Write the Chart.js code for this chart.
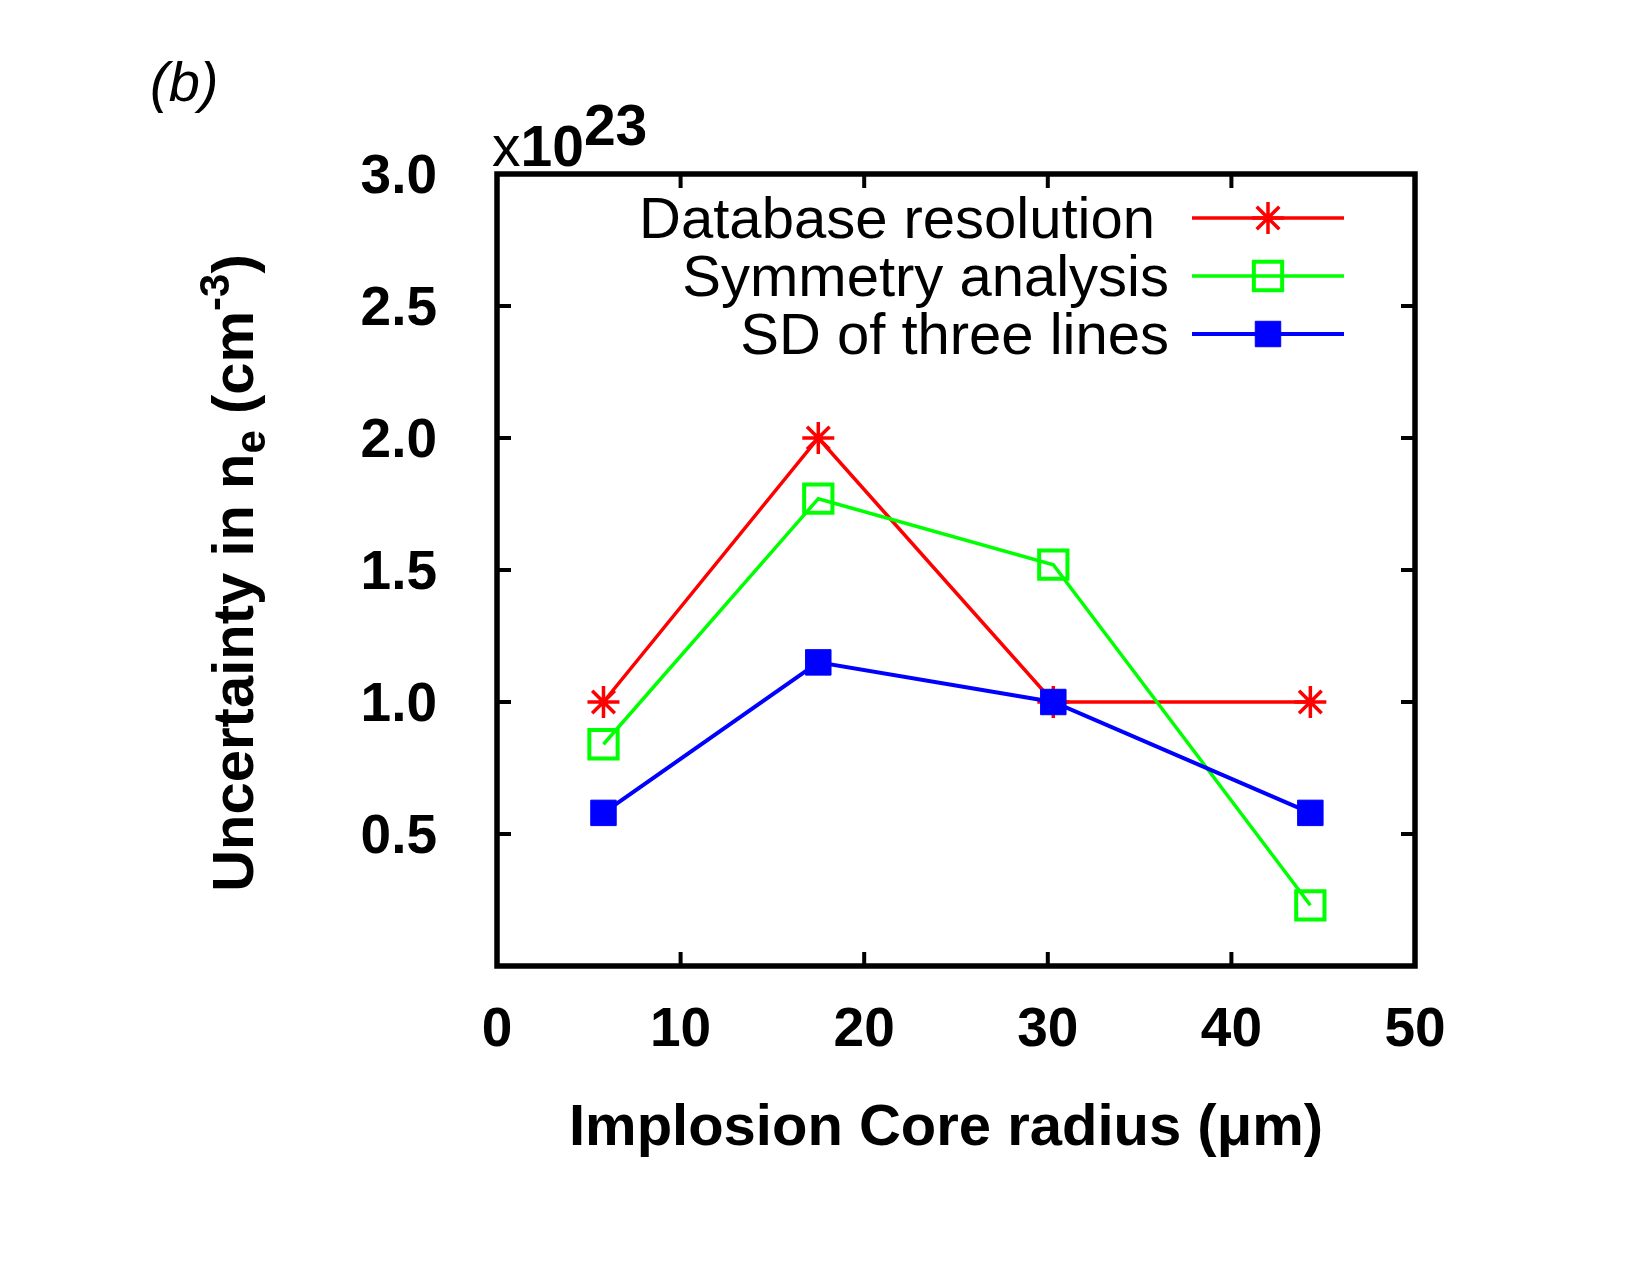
<!DOCTYPE html>
<html>
<head>
<meta charset="utf-8">
<script src="https://cdn.jsdelivr.net/npm/chart.js@4.4.0/dist/chart.umd.min.js"></script>
<style>
  html, body { margin: 0; padding: 0; background: #fff; }
  #wrap { width: 1650px; height: 1275px; position: relative; }
</style>
</head>
<body>
<div id="wrap"><canvas id="c" width="1650" height="1275"></canvas></div>
<script>
// ---- data ----
const coreRadius = [5.8, 17.5, 30.3, 44.3];          // um
const dbResolution = [1.0, 2.0, 1.0, 1.0];           // x10^23 cm^-3
const symmetryAnalysis = [0.84, 1.77, 1.52, 0.23];
const sdThreeLines = [0.58, 1.15, 1.0, 0.58];
const seriesNames = ["Database resolution", "Symmetry analysis", "SD of three lines"];
const seriesColors = ["#ff0000", "#00ff00", "#0000ff"];

const FONT = "'Liberation Sans', Arial, Helvetica, sans-serif";
Chart.defaults.font.family = FONT;
Chart.defaults.color = "#000";

// ---- geometry of the plot box ----
const BOX = { left: 497, right: 1415, top: 174, bottom: 966 };

const pts = ys => coreRadius.map((x, i) => ({ x, y: ys[i] }));

// frame, inward ticks, legend, titles
const decor = {
  id: "decor",
  afterDraw(chart) {
    const { ctx, chartArea: a, scales: { x, y } } = chart;
    ctx.save();
    // inward ticks on all four sides
    ctx.strokeStyle = "#000";
    ctx.lineWidth = 4;
    const tl = 14;
    x.ticks.forEach(t => {
      if (t.value <= x.min || t.value >= x.max) return;
      const px = x.getPixelForValue(t.value);
      ctx.beginPath();
      ctx.moveTo(px, a.bottom); ctx.lineTo(px, a.bottom - tl);
      ctx.moveTo(px, a.top); ctx.lineTo(px, a.top + tl);
      ctx.stroke();
    });
    y.ticks.forEach(t => {
      if (t.value <= y.min || t.value >= y.max) return;
      const py = y.getPixelForValue(t.value);
      ctx.beginPath();
      ctx.moveTo(a.left, py); ctx.lineTo(a.left + tl, py);
      ctx.moveTo(a.right, py); ctx.lineTo(a.right - tl, py);
      ctx.stroke();
    });
    // frame
    ctx.lineWidth = 5.5;
    ctx.strokeRect(a.left, a.top, a.right - a.left, a.bottom - a.top);

    // legend (text right-aligned, then sample)
    const rowY = [218, 276, 334];
    const textRight = [1155, 1169, 1169];
    chart.data.datasets.forEach((ds, i) => {
      const yy = rowY[i];
      ctx.font = `58px ${FONT}`;
      ctx.fillStyle = "#000";
      ctx.textAlign = "right";
      ctx.textBaseline = "alphabetic";
      ctx.fillText(ds.label, textRight[i], yy + 20);
      ctx.strokeStyle = ds.borderColor;
      ctx.lineWidth = ds.borderWidth;
      ctx.beginPath();
      ctx.moveTo(1192, yy); ctx.lineTo(1344, yy);
      ctx.stroke();
      ctx.fillStyle = ds.pointBackgroundColor;
      ctx.strokeStyle = ds.pointBorderColor;
      ctx.lineWidth = ds.pointBorderWidth;
      Chart.helpers.drawPoint(ctx, {
        pointStyle: ds.pointStyle, radius: ds.pointRadius, rotation: 0,
        borderWidth: ds.pointBorderWidth
      }, 1268, yy);
    });

    // pieces of mixed-size text
    const drawRuns = (runs, cx, cy) => {
      let w = 0;
      runs.forEach(r => { ctx.font = r.font; w += ctx.measureText(r.t).width; });
      let xx = cx - w / 2;
      ctx.textAlign = "left";
      runs.forEach(r => {
        ctx.font = r.font;
        ctx.fillText(r.t, xx, cy + (r.dy || 0));
        xx += ctx.measureText(r.t).width;
      });
    };
    ctx.fillStyle = "#000";
    ctx.textBaseline = "alphabetic";

    // y title
    ctx.save();
    ctx.translate(253, 573);
    ctx.rotate(-Math.PI / 2);
    drawRuns([
      { t: "Uncertainty in n", font: `bold 58px ${FONT}` },
      { t: "e", font: `bold 42px ${FONT}`, dy: 12 },
      { t: " (cm", font: `bold 58px ${FONT}` },
      { t: "-3", font: `bold 42px ${FONT}`, dy: -24 },
      { t: ")", font: `bold 58px ${FONT}` }
    ], 0, 0);
    ctx.restore();

    // x title
    drawRuns([{ t: "Implosion Core radius (\u03bcm)", font: `bold 58px ${FONT}` }], 946, 1145);

    // multiplier x10^23
    ctx.textAlign = "left";
    ctx.font = `57px ${FONT}`;
    ctx.fillText("x", 492, 166);
    let mx = 492 + ctx.measureText("x").width;
    ctx.font = `bold 57px ${FONT}`;
    ctx.fillText("10", mx, 166);
    mx += ctx.measureText("10").width;
    ctx.fillText("23", mx, 145);

    // panel label
    ctx.font = `italic 56px ${FONT}`;
    ctx.fillText("(b)", 150, 101);
    ctx.restore();
  }
};

new Chart(document.getElementById("c"), {
  type: "line",
  data: {
    datasets: [
      { label: seriesNames[0], data: pts(dbResolution), order: 3,
        borderColor: seriesColors[0], borderWidth: 3.5,
        pointStyle: "star", pointRadius: 16, pointBorderWidth: 3.5,
        pointBorderColor: seriesColors[0], pointBackgroundColor: seriesColors[0] },
      { label: seriesNames[1], data: pts(symmetryAnalysis), order: 2,
        borderColor: seriesColors[1], borderWidth: 3.5,
        pointStyle: "rect", pointRadius: 20, pointBorderWidth: 4,
        pointBorderColor: seriesColors[1], pointBackgroundColor: "rgba(0,0,0,0)" },
      { label: seriesNames[2], data: pts(sdThreeLines), order: 1,
        borderColor: seriesColors[2], borderWidth: 4,
        pointStyle: "rect", pointRadius: 18, pointBorderWidth: 1,
        pointBorderColor: seriesColors[2], pointBackgroundColor: seriesColors[2] }
    ]
  },
  options: {
    responsive: false,
    animation: false,
    devicePixelRatio: 1,
    layout: { padding: { left: 0, top: BOX.top, right: 1650 - BOX.right, bottom: 0 } },
    elements: { line: { tension: 0 } },
    plugins: { legend: { display: false }, tooltip: { enabled: false } },
    scales: {
      x: {
        type: "linear", min: 0, max: 50,
        grid: { display: false, drawTicks: false },
        border: { display: false },
        ticks: { stepSize: 10, padding: 32, maxRotation: 0, autoSkip: false,
                 font: { size: 55, weight: "bold" }, color: "#000",
                 callback: v => String(v) },
        afterFit: s => { s.height = 1275 - BOX.bottom; }
      },
      y: {
        type: "linear", min: 0, max: 3,
        grid: { display: false, drawTicks: false },
        border: { display: false },
        ticks: { stepSize: 0.5, padding: 60, labelOffset: 4, autoSkip: false,
                 font: { size: 55, weight: "bold" }, color: "#000",
                 callback: v => v === 0 ? "" : Number(v).toFixed(1) },
        afterFit: s => { s.width = BOX.left; }
      }
    }
  },
  plugins: [decor]
});
</script>
</body>
</html>
